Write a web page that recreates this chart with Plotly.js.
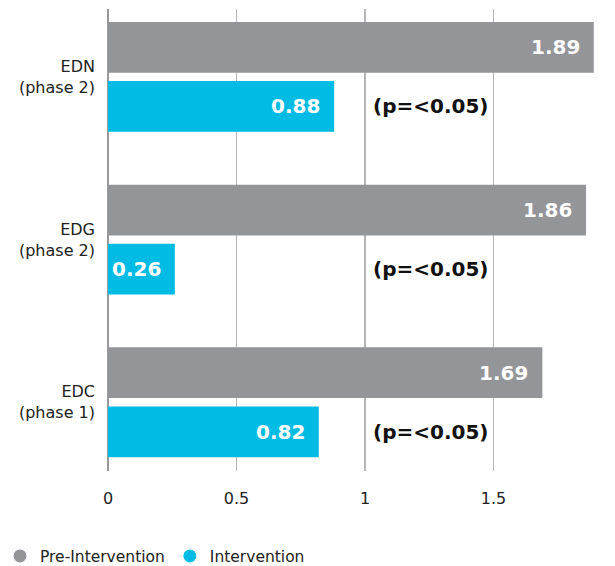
<!DOCTYPE html>
<html>
<head>
<meta charset="utf-8">
<script src="https://cdn.plot.ly/plotly-3.0.1.min.js"></script>
<style>html,body{margin:0;padding:0;background:#fff;}#chart{width:615px;height:566px;}</style>
</head>
<body>
<div id="chart"></div>
<script>
const categories = ['EDN<br>(phase 2)', 'EDG<br>(phase 2)', 'EDC<br>(phase 1)'];
const preValues = [1.89, 1.86, 1.69];
const interventionValues = [0.88, 0.26, 0.82];
const pValues = ['(p=<0.05)', '(p=<0.05)', '(p=<0.05)'];
const seriesNames = ['Pre-Intervention', 'Intervention'];
const xTickValues = [0, 0.5, 1, 1.5];
const xTickLabels = ['0', '0.5', '1', '1.5'];

const grey = '#939598';
const cyan = '#00bce4';
const FONT = '"DejaVu Sans", Verdana, sans-serif';

const traces = [
  {
    type: 'bar', orientation: 'h', name: seriesNames[0],
    y: categories, x: preValues, marker: {color: grey},
    showlegend: false, hoverinfo: 'skip'
  },
  {
    type: 'bar', orientation: 'h', name: seriesNames[1],
    y: categories, x: interventionValues, marker: {color: cyan},
    showlegend: false, hoverinfo: 'skip'
  },
  {
    type: 'scatter', mode: 'markers', name: seriesNames[0],
    x: [null], y: [null], marker: {color: grey, size: 13, symbol: 'circle'},
    showlegend: true
  },
  {
    type: 'scatter', mode: 'markers', name: seriesNames[1],
    x: [null], y: [null], marker: {color: cyan, size: 13, symbol: 'circle'},
    showlegend: true
  }
];

const bargap = 0.274;
const slot = (1 - bargap) / 2;
const valueFont = {family: FONT, size: 20, color: '#ffffff', weight: 700};
const annotations = [];
preValues.forEach((v, i) => annotations.push({
  x: v, y: i - slot / 2, xref: 'x', yref: 'y', text: v.toFixed(2),
  showarrow: false, xanchor: 'right', yanchor: 'middle', xshift: -12,
  font: valueFont
}));
interventionValues.forEach((v, i) => annotations.push({
  x: v, y: i + slot / 2, xref: 'x', yref: 'y', text: v.toFixed(2),
  showarrow: false, xanchor: 'right', yanchor: 'middle', xshift: -12,
  font: valueFont
}));
pValues.forEach((p, i) => annotations.push({
  x: 1.025, y: i + slot / 2, xref: 'x', yref: 'y',
  text: p, showarrow: false, xanchor: 'left', yanchor: 'middle',
  font: {family: FONT, size: 20, color: '#111111', weight: 700}
}));

const layout = {
  width: 615, height: 566,
  margin: {l: 108, r: 13, t: 9, b: 95},
  paper_bgcolor: '#ffffff', plot_bgcolor: '#ffffff',
  barmode: 'group', bargap: bargap, bargroupgap: 0.14,
  font: {family: FONT, size: 16, color: '#222222'},
  xaxis: {
    range: [0, 1.922], tickvals: xTickValues, ticktext: xTickLabels,
    showgrid: true, gridcolor: '#b5b5b5', gridwidth: 1.2,
    zeroline: true, zerolinecolor: '#9a9a9a', zerolinewidth: 1.6,
    showline: false, ticks: '', ticklabelstandoff: 16,
    tickfont: {family: FONT, size: 16, color: '#222222'}, fixedrange: true
  },
  yaxis: {
    type: 'category', categoryorder: 'array', categoryarray: categories,
    range: [2.4225, -0.417], showgrid: false, zeroline: false, showline: false,
    ticks: '', ticklabelstandoff: 12,
    tickfont: {family: FONT, size: 16, color: '#222222'}, fixedrange: true
  },
  showlegend: true,
  legend: {
    orientation: 'h', xref: 'container', yref: 'container',
    x: 0, y: 0.017, xanchor: 'left', yanchor: 'middle',
    font: {family: FONT, size: 15.5, color: '#222222'},
    itemwidth: 30, tracegroupgap: 0, bgcolor: 'rgba(0,0,0,0)'
  },
  annotations: annotations
};

Plotly.newPlot('chart', traces, layout, {displayModeBar: false, staticPlot: true});
</script>
</body>
</html>
